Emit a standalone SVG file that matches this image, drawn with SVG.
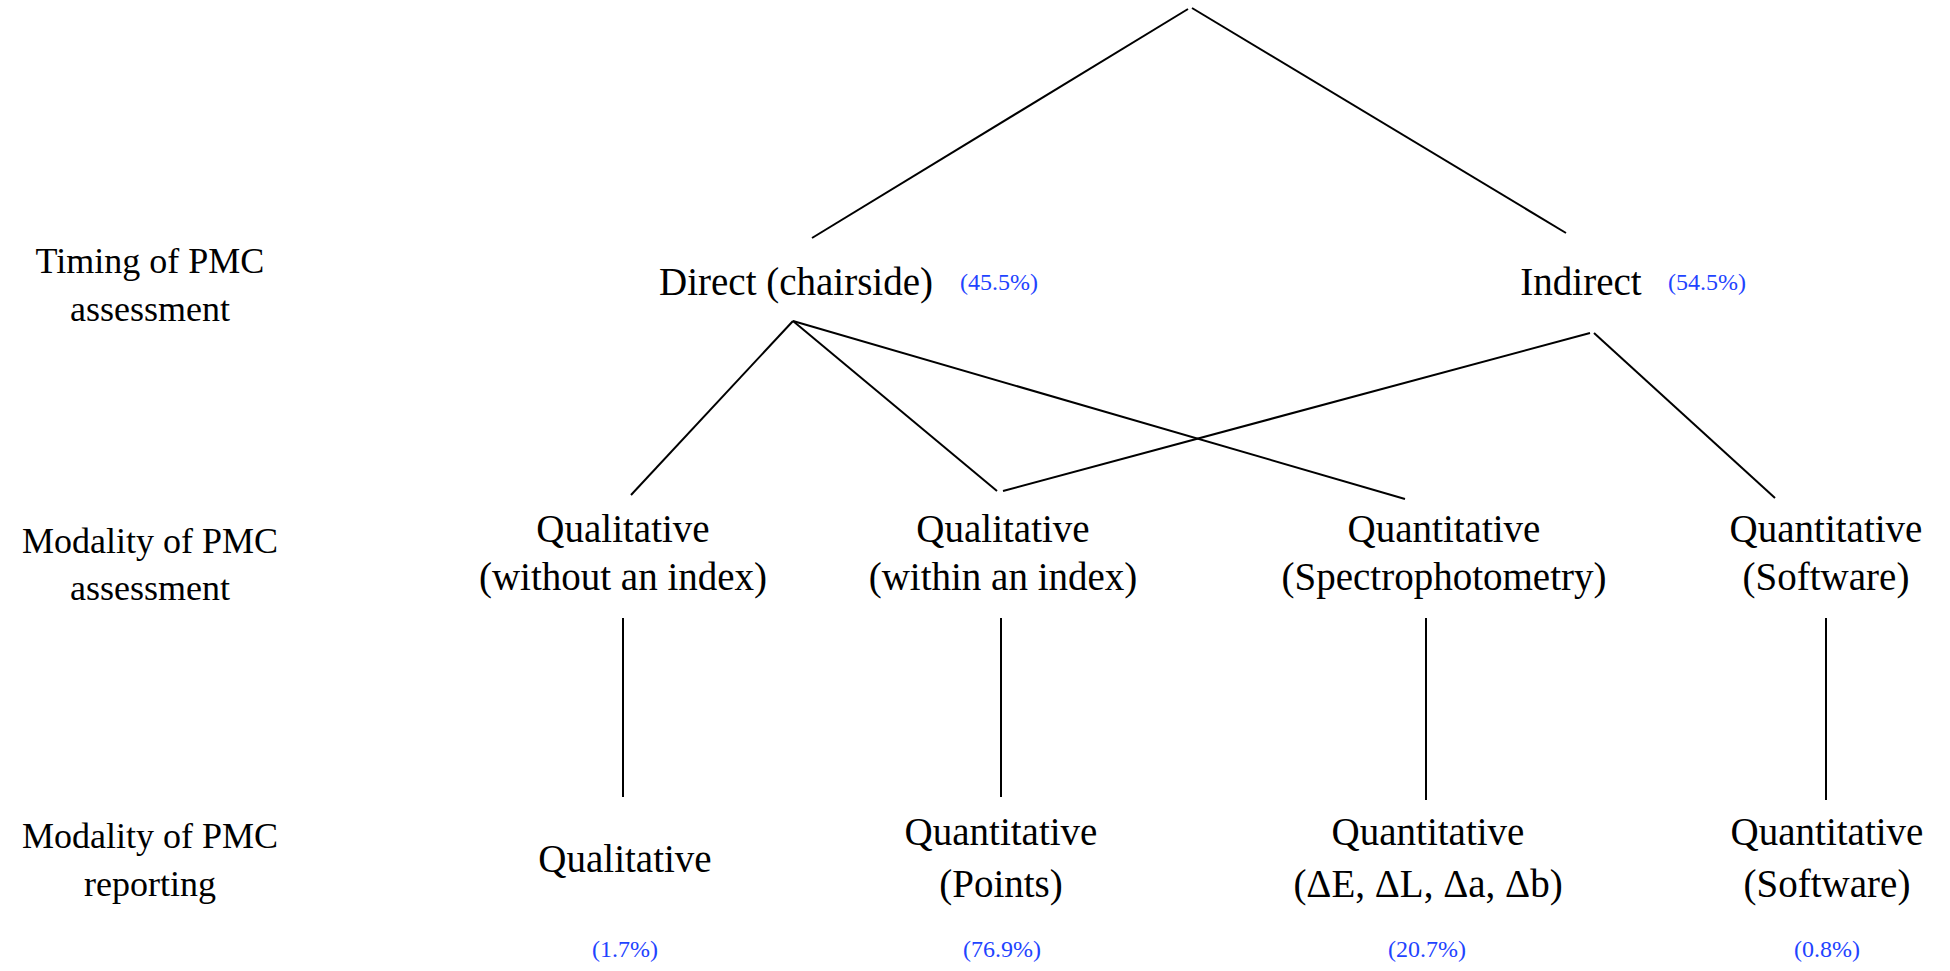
<svg xmlns="http://www.w3.org/2000/svg" width="1950" height="971" viewBox="0 0 1950 971" font-family="'Liberation Serif', 'Times New Roman', Tinos, 'Noto Serif', 'DejaVu Serif', serif">
<style>
  text { font-family: 'Liberation Serif', 'Times New Roman', Tinos, 'Noto Serif', 'DejaVu Serif', serif; fill: #000; }
  .lbl { font-size: 36px; text-anchor: middle; }
  .node { font-size: 39px; text-anchor: middle; }
  .pctc { font-size: 24px; fill: #1f44ff; text-anchor: middle; }
  .conn line { stroke: #000; stroke-width: 2; stroke-linecap: butt; }
</style>
<rect width="1950" height="971" fill="#fff"/>

<g id="level-labels">
  <text class="lbl" x="150" y="273">Timing of PMC</text>
  <text class="lbl" x="150" y="321">assessment</text>
  <text class="lbl" x="150" y="553">Modality of PMC</text>
  <text class="lbl" x="150" y="600">assessment</text>
  <text class="lbl" x="150" y="848">Modality of PMC</text>
  <text class="lbl" x="150" y="896">reporting</text>
</g>

<g id="connectors" class="conn">
  <line x1="1188" y1="9" x2="812" y2="238"/>
  <line x1="1192" y1="8" x2="1566" y2="233"/>
  <line x1="793" y1="321" x2="631" y2="495"/>
  <line x1="793" y1="321" x2="997" y2="491"/>
  <line x1="793" y1="321" x2="1405" y2="499"/>
  <line x1="1590" y1="333" x2="1003" y2="491"/>
  <line x1="1594" y1="333" x2="1775" y2="498"/>
  <line x1="623" y1="618" x2="623" y2="797"/>
  <line x1="1001" y1="618" x2="1001" y2="797"/>
  <line x1="1426" y1="618" x2="1426" y2="800"/>
  <line x1="1826" y1="618" x2="1826" y2="800"/>
</g>

<g id="node-direct">
  <text class="node" x="796" y="295">Direct (chairside)</text>
  <text class="pctc" x="999" y="290">(45.5%)</text>
</g>
<g id="node-indirect">
  <text class="node" x="1581" y="295">Indirect</text>
  <text class="pctc" x="1707" y="290">(54.5%)</text>
</g>

<g id="node-qual-without">
  <text class="node" x="623" y="542">Qualitative</text>
  <text class="node" x="623" y="590">(without an index)</text>
</g>
<g id="node-qual-within">
  <text class="node" x="1003" y="542">Qualitative</text>
  <text class="node" x="1003" y="590">(within an index)</text>
</g>
<g id="node-quant-spectro">
  <text class="node" x="1444" y="542">Quantitative</text>
  <text class="node" x="1444" y="590">(Spectrophotometry)</text>
</g>
<g id="node-quant-software">
  <text class="node" x="1826" y="542">Quantitative</text>
  <text class="node" x="1826" y="590">(Software)</text>
</g>

<g id="node-rep-qual">
  <text class="node" x="625" y="872">Qualitative</text>
  <text class="pctc" x="625" y="957">(1.7%)</text>
</g>
<g id="node-rep-points">
  <text class="node" x="1001" y="845">Quantitative</text>
  <text class="node" x="1001" y="897">(Points)</text>
  <text class="pctc" x="1002" y="957">(76.9%)</text>
</g>
<g id="node-rep-delta">
  <text class="node" x="1428" y="845">Quantitative</text>
  <text class="node" x="1428" y="897">(ΔE, ΔL, Δa, Δb)</text>
  <text class="pctc" x="1427" y="957">(20.7%)</text>
</g>
<g id="node-rep-software">
  <text class="node" x="1827" y="845">Quantitative</text>
  <text class="node" x="1827" y="897">(Software)</text>
  <text class="pctc" x="1827" y="957">(0.8%)</text>
</g>
</svg>
